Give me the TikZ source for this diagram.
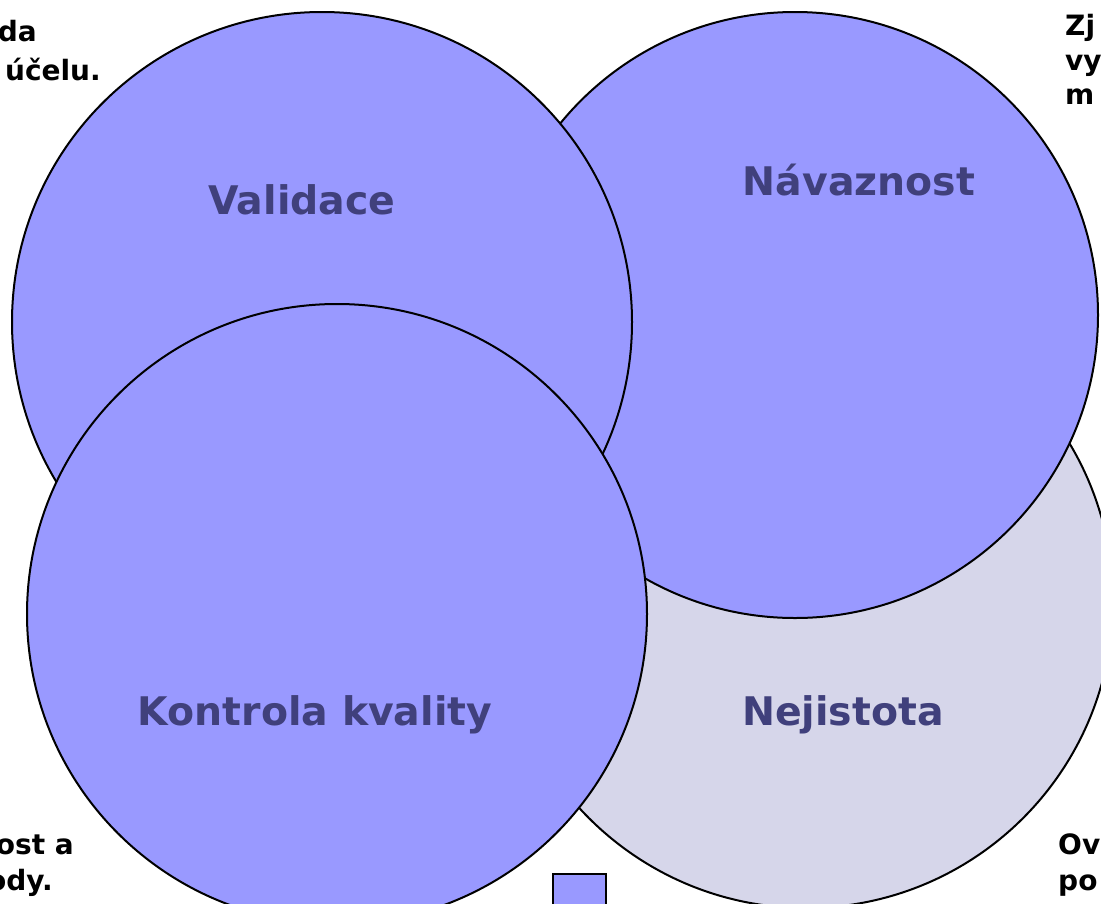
\documentclass[tikz,border=0pt]{standalone}
\usepackage{fontspec}
\setmainfont{DejaVu Sans}
\definecolor{blu}{RGB}{153,153,255}
\definecolor{gry}{RGB}{214,214,234}
\definecolor{lbl}{RGB}{64,64,124}
\tikzset{
  ring/.style={circle, draw=black, line width=2pt, inner sep=0pt, minimum size=#1},
  lab/.style={anchor=base, text=lbl, font=\fontsize{39.4}{44}\selectfont\bfseries, inner sep=0pt},
  side/.style={text=black, font=\fontsize{28}{32}\selectfont\bfseries, inner sep=0pt},
}
\begin{document}
\begin{tikzpicture}[x=1pt,y=-1pt]
\path[use as bounding box] (0,0) rectangle (1101,903);
\clip (0,0) rectangle (1101,903);
\node[ring=614pt, fill=gry] (nej) at (806,601) {};
\node[ring=606pt, fill=blu] (nav) at (795,315) {};
\node[ring=620pt, fill=blu] (val) at (322,322) {};
\node[ring=620pt, fill=blu] (kon) at (337,614) {};
\node[lab] (lval) at (302,214) {Validace};
\node[lab] (lnav) at (859,195) {Návaznost};
\node[lab] (lkon) at (315,725) {Kontrola kvality};
\node[lab] (lnej) at (843,725) {Nejistota};
\node[side, anchor=base east] (tl1) at (37,41) {da};
\node[side, anchor=base east] (tl2) at (101,80) {účelu.};
\node[side, anchor=base west] (tr1) at (1065,35) {Zj};
\node[side, anchor=base west] (tr2) at (1065,70) {vy};
\node[side, anchor=base west] (tr3) at (1065,104) {m};
\node[side, anchor=base east] (bl1) at (74,854) {ost a};
\node[side, anchor=base east] (bl2) at (53,890) {ody.};
\node[side, anchor=base west] (br1) at (1058,854) {Ov};
\node[side, anchor=base west] (br2) at (1058,890) {po};
\node[draw=black, line width=2pt, fill=blu, minimum width=53pt, minimum height=42pt, inner sep=0pt] (sq) at (579.5,895) {};
\end{tikzpicture}
\end{document}
